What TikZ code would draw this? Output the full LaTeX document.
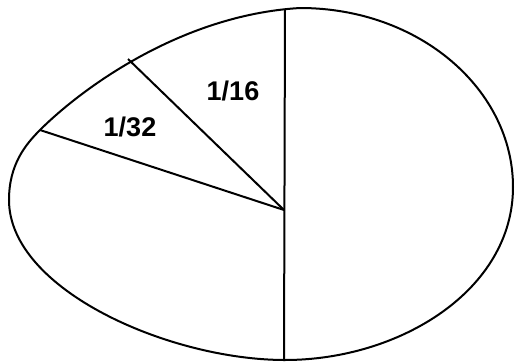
\documentclass[tikz,border=0pt]{standalone}
\usepackage{fontspec}
\setmainfont{Liberation Sans}
\begin{document}
\begin{tikzpicture}[x=1pt,y=-1pt,
  outline/.style={line width=2pt,black},
  divider/.style={line width=2pt,black},
  frac/.style={font=\fontsize{27}{29}\selectfont\bfseries,inner sep=0pt}]
\useasboundingbox (0,0) rectangle (515,362);
\draw[outline] (300,8) .. controls (420,8) and (513,90) .. (513,187)
  .. controls (513,290) and (400,360) .. (285,360)
  .. controls (170,360) and (9,290) .. (9,200)
  .. controls (9,165) and (25,145) .. (40,130)
  .. controls (80,90) and (180,15) .. (300,8) -- cycle;
\coordinate (c) at (284,210);
\coordinate (top) at (285,9);
\coordinate (bot) at (284,361);
\coordinate (p1) at (128,59);
\coordinate (p2) at (40,130);
\draw[divider] (top) -- (bot);
\draw[divider] (c) -- (p1);
\draw[divider] (c) -- (p2);
\node[frac] (l16) at (233,91) {1/16};
\node[frac] (l32) at (130,127) {1/32};
\end{tikzpicture}
\end{document}
